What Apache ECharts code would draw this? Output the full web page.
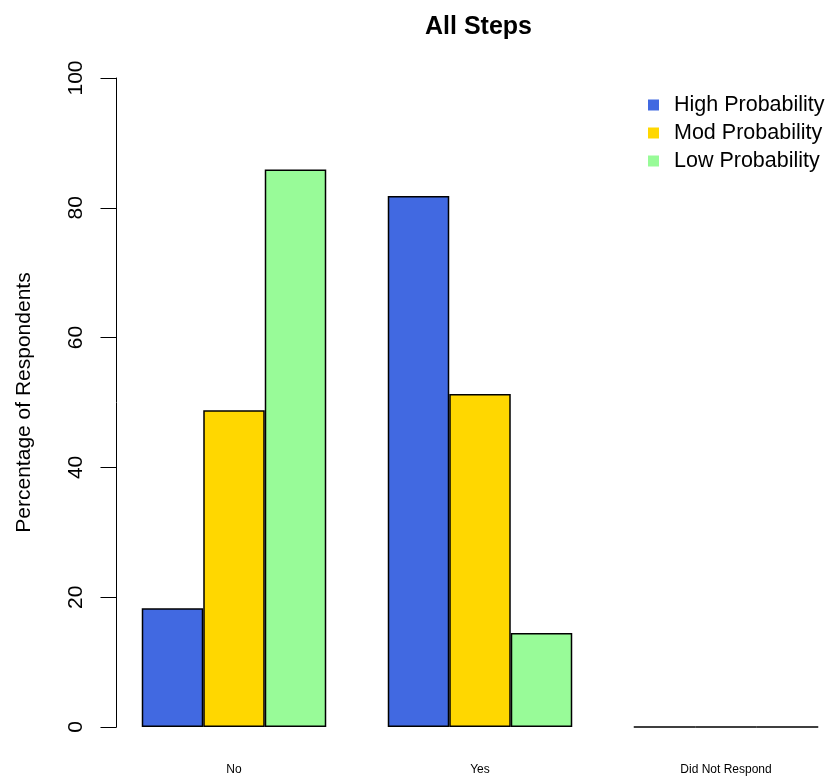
<!DOCTYPE html>
<html>
<head>
<meta charset="utf-8">
<script src="https://cdn.jsdelivr.net/npm/echarts@6/dist/echarts.min.js"></script>
<style>
html,body{margin:0;padding:0;background:#fff;}
#chart{width:837px;height:778px;}
</style>
</head>
<body>
<div id="chart"></div>
<script>
const categories = ['No', 'Yes', 'Did Not Respond'];
const seriesNames = ['High Probability', 'Mod Probability', 'Low Probability'];
const highValues = [18.3, 81.8, 0];
const modValues = [48.8, 51.3, 0];
const lowValues = [85.9, 14.5, 0];
const yTicks = [0, 20, 40, 60, 80, 100];
const colors = ['#4169E1', '#FFD700', '#98FB98'];

const font = '"Liberation Sans", Arial, sans-serif';
const chart = echarts.init(document.getElementById('chart'));
const dataSets = [highValues, modValues, lowValues];

chart.setOption({
  animation: false,
  backgroundColor: '#ffffff',
  textStyle: { fontFamily: font },
  title: {
    text: 'All Steps',
    left: 425,
    top: 15,
    padding: 0,
    textStyle: { fontFamily: font, fontSize: 25, fontWeight: 'bold', color: '#000' }
  },
  legend: {
    orient: 'vertical',
    left: 648,
    top: 94,
    padding: 0,
    itemGap: 6,
    itemWidth: 11,
    itemHeight: 11,
    icon: 'rect',
    data: seriesNames,
    itemStyle: { borderWidth: 0 },
    textStyle: { fontFamily: font, fontSize: 21.5, lineHeight: 21, height: 21, color: '#000', padding: [0, 0, 0, 10] }
  },
  grid: {
    left: 111,
    top: 78,
    width: 738,
    height: 649,
    outerBoundsMode: 'none',
    containLabel: false
  },
  xAxis: {
    type: 'category',
    data: categories,
    boundaryGap: true,
    axisLine: { show: false },
    axisTick: { show: false },
    axisLabel: { fontFamily: font, fontSize: 12, color: '#000', margin: 37, interval: 0 }
  },
  yAxis: {
    type: 'value',
    min: 0,
    max: 100,
    interval: 20,
    offset: -5.5,
    name: 'Percentage of Respondents',
    nameLocation: 'middle',
    nameGap: 82,
    nameRotate: 90,
    nameTextStyle: { fontFamily: font, fontSize: 21, color: '#000' },
    splitLine: { show: false },
    axisLine: { show: true, lineStyle: { color: '#000', width: 1 } },
    axisTick: { show: true, length: 16, lineStyle: { color: '#000', width: 1 } },
    axisLabel: {
      rotate: 90,
      margin: 30,
      fontFamily: font,
      fontSize: 21,
      color: '#000',
      formatter: function (v) { return yTicks.indexOf(v) >= 0 ? String(v) : ''; }
    }
  },
  series: dataSets.map(function (d, i) {
    return {
      name: seriesNames[i],
      type: 'bar',
      data: d,
      barGap: '0%',
      barCategoryGap: '25%',
      itemStyle: { color: colors[i], borderColor: '#000', borderWidth: 1.5 }
    };
  })
});
</script>
</body>
</html>
